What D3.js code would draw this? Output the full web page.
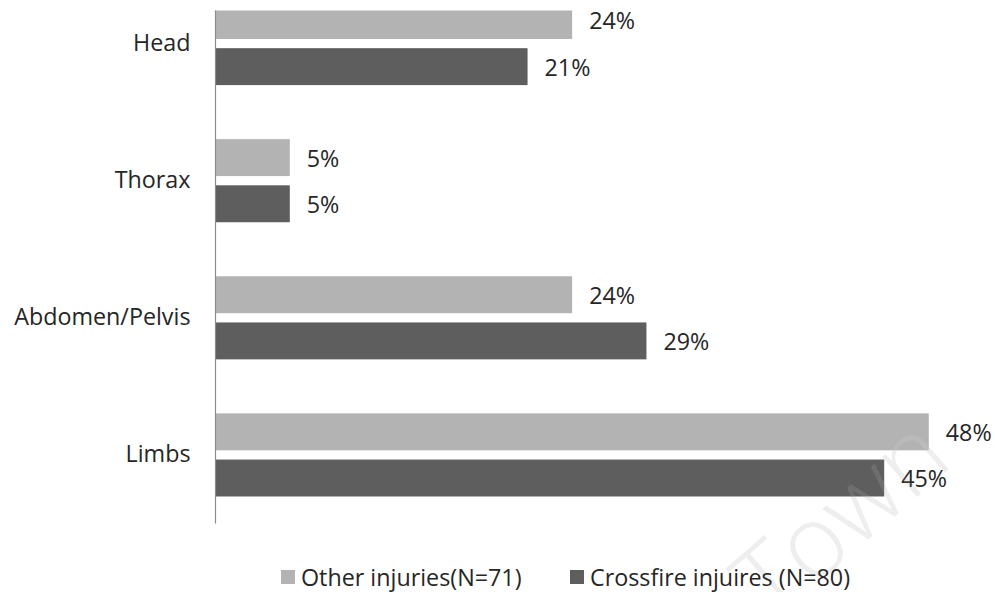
<!DOCTYPE html>
<html>
<head>
<meta charset="utf-8">
<script src="https://cdn.jsdelivr.net/npm/d3@7"></script>
<style>
  html, body { margin: 0; padding: 0; background: #fff; }
  svg { display: block; }
  text { font-family: "Open Sans", "Noto Sans", sans-serif; }
</style>
</head>
<body>
<svg id="chart" width="995" height="592"></svg>
<script>
// ---- data ----
const categories = ["Head", "Thorax", "Abdomen/Pelvis", "Limbs"];
const seriesNames = ["Other injuries(N=71)", "Crossfire injuires (N=80)"];
const otherInjuries = [24, 5, 24, 48];
const crossfireInjuries = [21, 5, 29, 45];
const seriesColors = ["#b3b3b3", "#5e5e5e"];

const seriesValues = [otherInjuries, crossfireInjuries];
const rows = categories.map((c, i) => ({
  cat: c,
  vals: seriesNames.map((s, j) => ({ key: s, idx: j, v: seriesValues[j][i] }))
}));

const svg = d3.select("#chart");
const W = 995, H = 592;
const FS = 23.3;

const x = d3.scaleLinear().domain([0, 50]).range([215.5, 215.5 + 50 * 14.86]);
const y0 = d3.scaleBand().domain(categories).range([-25, 523.5])
  .paddingInner(0.394).paddingOuter(0.197);
const y1 = d3.scaleBand().domain(seriesNames).range([0, y0.bandwidth()])
  .paddingInner(0.2).paddingOuter(0);

const wmTransform = "translate(838,514) rotate(-41)";
// watermark (under layer)
svg.append("text")
  .attr("transform", wmTransform)
  .attr("text-anchor", "middle")
  .attr("dominant-baseline", "central")
  .attr("font-size", 100)
  .attr("font-weight", 300)
  .attr("fill", "#ececec")
  .text("Town");

svg.append("defs").append("clipPath").attr("id", "plotclip")
  .append("rect").attr("x", 0).attr("y", 10.5).attr("width", W).attr("height", H);

const plot = svg.append("g").attr("clip-path", "url(#plotclip)");

const groups = plot.selectAll("g.grp").data(rows).join("g")
  .attr("class", "grp")
  .attr("transform", d => `translate(0,${y0(d.cat)})`);

groups.selectAll("rect").data(d => d.vals).join("rect")
  .attr("x", x(0))
  .attr("y", d => y1(d.key))
  .attr("height", y1.bandwidth())
  .attr("width", d => x(d.v) - x(0))
  .attr("fill", d => seriesColors[d.idx]);

groups.selectAll("text.val").data(d => d.vals).join("text")
  .attr("class", "val")
  .attr("x", d => x(d.v) + 17)
  .attr("y", d => y1(d.key) + y1.bandwidth() / 2)
  .attr("dominant-baseline", "central")
  .attr("font-size", FS)
  .attr("fill", "#262626")
  .text(d => d.v + "%");

// category axis
const yAxis = d3.axisLeft(y0).tickSize(0).tickPadding(25).tickFormat(d => d);
const ax = plot.append("g").attr("transform", `translate(${x(0)},0)`).call(yAxis);
ax.select(".domain").attr("stroke", "#8c8c8c").attr("stroke-width", 1.2)
  .attr("d", `M0,${y0.range()[0]}V${y0.range()[1]}`);
ax.selectAll(".tick text")
  .attr("font-family", "Open Sans, Noto Sans, sans-serif")
  .attr("font-size", FS)
  .attr("fill", "#262626");

// watermark overlay (faint over bars)
svg.append("text")
  .attr("transform", wmTransform)
  .attr("text-anchor", "middle")
  .attr("dominant-baseline", "central")
  .attr("font-size", 100)
  .attr("font-weight", 300)
  .attr("fill", "#ffffff")
  .attr("fill-opacity", 0.1)
  .text("Town");

// legend
const legendX = [281, 570];
const lg = svg.append("g");
seriesNames.forEach((s, i) => {
  lg.append("rect")
    .attr("x", legendX[i]).attr("y", 570)
    .attr("width", 14).attr("height", 14)
    .attr("fill", seriesColors[i]);
  lg.append("text")
    .attr("x", legendX[i] + 20).attr("y", 577)
    .attr("dominant-baseline", "central")
    .attr("font-size", FS)
    .attr("fill", "#262626")
    .text(s);
});
</script>
</body>
</html>
